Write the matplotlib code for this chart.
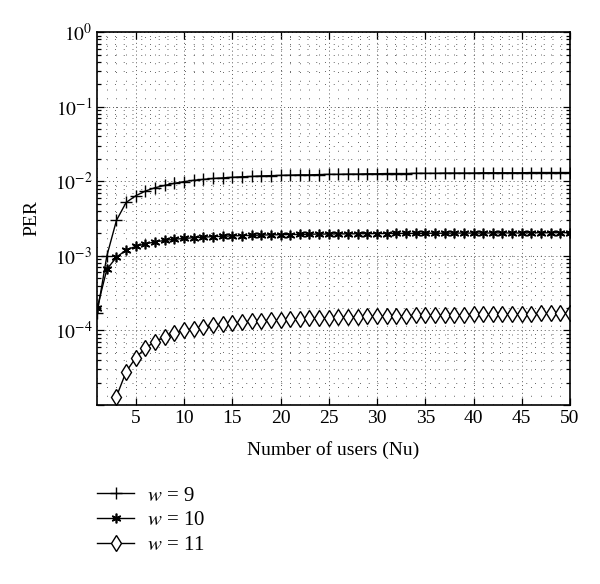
import numpy as np
import matplotlib
matplotlib.use("Agg")
import matplotlib.pyplot as plt
from matplotlib.ticker import LogLocator, MultipleLocator, NullFormatter, FuncFormatter

plt.rcParams['font.family'] = 'serif'
plt.rcParams['font.serif'] = ['Liberation Serif', 'DejaVu Serif']
plt.rcParams['mathtext.fontset'] = 'stix'

# number of users
users = list(range(1, 51))

# PER values
per_w9 = [1.7e-4, 1.0e-3, 3.0e-3, 5.2e-3, 6.4e-3, 7.4e-3, 8.2e-3, 8.8e-3, 9.4e-3, 9.9e-3,
          1.03e-2, 1.06e-2, 1.09e-2, 1.11e-2, 1.13e-2, 1.15e-2, 1.16e-2, 1.18e-2, 1.19e-2, 1.20e-2,
          1.21e-2, 1.22e-2, 1.22e-2, 1.23e-2, 1.24e-2, 1.24e-2, 1.25e-2, 1.25e-2, 1.26e-2, 1.26e-2,
          1.27e-2, 1.27e-2, 1.27e-2, 1.28e-2, 1.28e-2, 1.28e-2, 1.29e-2, 1.29e-2, 1.29e-2, 1.29e-2,
          1.30e-2, 1.30e-2, 1.30e-2, 1.30e-2, 1.30e-2, 1.31e-2, 1.31e-2, 1.31e-2, 1.31e-2, 1.31e-2]

per_w10 = [2.0e-4, 6.6e-4, 9.6e-4, 1.20e-3, 1.34e-3, 1.45e-3, 1.54e-3, 1.61e-3, 1.67e-3, 1.71e-3,
           1.75e-3, 1.78e-3, 1.81e-3, 1.83e-3, 1.85e-3, 1.87e-3, 1.88e-3, 1.90e-3, 1.91e-3, 1.92e-3,
           1.93e-3, 1.94e-3, 1.95e-3, 1.96e-3, 1.96e-3, 1.97e-3, 1.97e-3, 1.98e-3, 1.98e-3, 1.99e-3,
           1.99e-3, 2.00e-3, 2.00e-3, 2.00e-3, 2.01e-3, 2.01e-3, 2.01e-3, 2.02e-3, 2.02e-3, 2.02e-3,
           2.02e-3, 2.03e-3, 2.03e-3, 2.03e-3, 2.03e-3, 2.04e-3, 2.04e-3, 2.04e-3, 2.04e-3, 2.05e-3]

# w = 11 curve only visible from Nu = 3
users_w11 = list(range(3, 51))
per_w11 = [1.3e-5, 2.8e-5, 4.3e-5, 5.8e-5, 7.1e-5, 8.1e-5, 9.2e-5, 1.00e-4,
           1.06e-4, 1.11e-4, 1.17e-4, 1.21e-4, 1.25e-4, 1.28e-4, 1.32e-4, 1.35e-4, 1.37e-4, 1.40e-4,
           1.42e-4, 1.44e-4, 1.46e-4, 1.47e-4, 1.49e-4, 1.50e-4, 1.52e-4, 1.53e-4, 1.54e-4, 1.55e-4,
           1.56e-4, 1.57e-4, 1.58e-4, 1.59e-4, 1.60e-4, 1.61e-4, 1.62e-4, 1.62e-4, 1.63e-4, 1.64e-4,
           1.65e-4, 1.65e-4, 1.66e-4, 1.67e-4, 1.67e-4, 1.68e-4, 1.69e-4, 1.69e-4, 1.70e-4, 1.71e-4]

fig = plt.figure(figsize=(6, 5.84), dpi=100)
ax = fig.add_axes([0.162, 0.3065, 0.788, 0.6385])

ax.semilogy(users, per_w9, color='black', lw=1, marker='+', ms=8, mew=1, label='$w$ = 9')
ax.semilogy(users, per_w10, color='black', lw=1, marker=(6, 2, 0), ms=7, mew=1.2, label='$w$ = 10')
ax.semilogy(users_w11, per_w11, color='black', lw=1, marker='d', ms=8, mew=1,
            mfc='white', label='$w$ = 11')

ax.set_xlim(1, 50)
ax.set_ylim(1e-5, 1)
ax.set_xticks([5, 10, 15, 20, 25, 30, 35, 40, 45, 50])
ax.xaxis.set_minor_locator(MultipleLocator(1))
ax.yaxis.set_major_locator(LogLocator(base=10, numticks=10))
ax.yaxis.set_minor_locator(LogLocator(base=10, subs=np.arange(2, 10), numticks=20))
ax.yaxis.set_minor_formatter(NullFormatter())
ax.yaxis.set_major_formatter(FuncFormatter(
    lambda v, p: '' if v < 5e-5 else r'$10^{%d}$' % int(round(np.log10(v)))))

ax.tick_params(which='both', direction='in', top=True, right=True, labelsize=14, width=0.9)
ax.tick_params(which='major', length=5)
ax.tick_params(which='minor', length=3)
ax.tick_params(axis='x', which='minor', length=0)
ax.grid(True, which='major', linestyle=(0, (1, 3)), color='0.35', lw=0.7)
ax.grid(True, which='minor', linestyle=(0, (1, 8)), color='0.4', lw=0.7)

for s in ax.spines.values():
    s.set_linewidth(1.2)

ax.set_xlabel('Number of users (Nu)', fontsize=14, labelpad=10)
ax.set_ylabel('PER', fontsize=14, labelpad=10)

leg = fig.legend(loc='upper left', frameon=False,
                 fontsize=15, handlelength=1.8, handletextpad=0.6, labelspacing=0.25)
leg.set_bbox_to_anchor((0.13, 0.2), transform=fig.transFigure)

fig.savefig('out.png', dpi=100)
